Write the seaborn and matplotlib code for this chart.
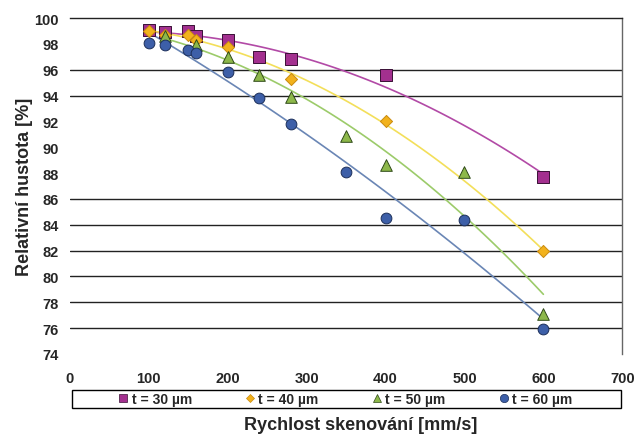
import matplotlib
matplotlib.use("Agg")
import matplotlib.pyplot as plt
from matplotlib.lines import Line2D
from matplotlib.patches import Rectangle
import pandas as pd
import seaborn as sns

X30 = [100, 120, 150, 160, 200, 240, 280, 400, 600]
Y30 = [99.1, 98.9, 99.0, 98.6, 98.3, 97.0, 96.8, 95.6, 87.7]
X40 = [100, 120, 150, 160, 200, 280, 400, 600]
Y40 = [99.0, 98.7, 98.7, 98.3, 97.8, 95.3, 92.0, 82.0]
X50 = [120, 160, 200, 240, 280, 350, 400, 500, 600]
Y50 = [98.6, 97.9, 97.0, 95.6, 93.9, 90.9, 88.6, 88.1, 77.1]
X60 = [100, 120, 150, 160, 200, 240, 280, 350, 400, 500, 600]
Y60 = [98.1, 97.9, 97.5, 97.3, 95.8, 93.8, 91.8, 88.1, 84.5, 84.4, 75.9]

LABELS = ["t = 30 µm", "t = 40 µm", "t = 50 µm", "t = 60 µm"]
GRID_VALUES = [96, 94, 86, 84, 82, 80, 78, 76]

STYLE = [
    # marker, fill, edge, line colour, size
    ("s", "#A3308F", "#3a1036", "#B24AA6", 70),
    ("D", "#F2B21C", "#c98a10", "#F3DF5A", 38),
    ("^", "#8DB84A", "#2f4a18", "#9CCB6A", 70),
    ("o", "#3D5FA8", "#1c2f5a", "#6A86B5", 60),
]


def main():
    sns.set_style("white")
    plt.rcParams["font.family"] = ["Liberation Sans", "DejaVu Sans"]
    plt.rcParams["font.weight"] = "bold"

    fig = plt.figure(figsize=(6.35, 4.35), dpi=100)
    ax = fig.add_axes([0.110, 0.184, 0.870, 0.772])

    for v in GRID_VALUES:
        ax.axhline(v, color="#222222", lw=1.0, zorder=0)

    series = [(X30, Y30), (X40, Y40), (X50, Y50), (X60, Y60)]
    handles = []
    for (xs, ys), lab, (m, fc, ec, lc, s) in zip(series, LABELS, STYLE):
        df = pd.DataFrame({"x": xs, "y": ys})
        sns.regplot(data=df, x="x", y="y", order=2, ci=None, scatter=False,
                    line_kws={"color": lc, "lw": 1.2}, ax=ax)
        sns.scatterplot(data=df, x="x", y="y", marker=m, color=fc,
                        edgecolor=ec, linewidth=0.7, s=s, zorder=3, ax=ax)
        handles.append(Line2D([], [], ls="", marker=m, markerfacecolor=fc,
                              markeredgecolor=ec, markeredgewidth=0.5,
                              markersize=6 if m != "D" else 4.5))

    ax.set_xlim(0, 700)
    ax.set_ylim(74, 100)
    ax.set_xticks(range(0, 701, 100))
    ax.set_yticks(range(74, 101, 2))
    ax.tick_params(axis="both", labelsize=10.5, length=0, pad=8)
    ax.tick_params(axis="x", length=3, direction="out", color="#555555",
                   pad=9)
    for lab in ax.get_xticklabels() + ax.get_yticklabels():
        lab.set_fontweight("bold")

    for side in ["left", "bottom"]:
        ax.spines[side].set_visible(False)
    for side in ["top", "right"]:
        ax.spines[side].set_visible(True)
        ax.spines[side].set_color("#666666")
        ax.spines[side].set_linewidth(1.0)
    ax.spines["top"].set_color("#222222")

    ax.set_ylabel("Relativní hustota [%]", fontsize=13, fontweight="bold",
                  labelpad=1)
    ax.set_xlabel("Rychlost skenování [mm/s]", fontsize=13,
                  fontweight="bold")
    ax.xaxis.set_label_coords(0.527, -0.186)

    # legend box spans the whole plot width, entries centred inside
    ax.add_patch(Rectangle((0.004, -0.161), 0.994, 0.054,
                           transform=ax.transAxes, fill=False,
                           edgecolor="black", lw=1.0, clip_on=False))
    leg = ax.legend(handles, LABELS, ncol=4, loc="center",
                    bbox_to_anchor=(0.497, -0.134), frameon=False,
                    fontsize=10, handletextpad=0.1, handlelength=1.0,
                    columnspacing=3.7, borderpad=0, borderaxespad=0)
    for t in leg.get_texts():
        t.set_fontweight("bold")

    fig.savefig("out.png", dpi=100)
    plt.close(fig)


if __name__ == "__main__":
    main()
